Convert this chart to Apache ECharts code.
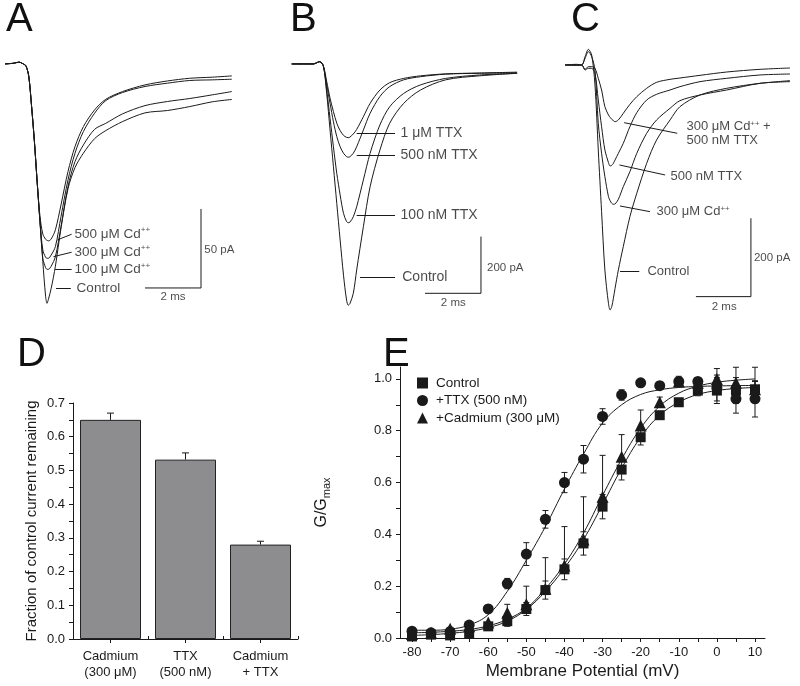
<!DOCTYPE html>
<html>
<head>
<meta charset="utf-8">
<script src="https://cdn.jsdelivr.net/npm/echarts/dist/echarts.min.js"></script>
<style>
  html, body { margin: 0; background: #fff; }
  #chart { width: 800px; height: 686px; }
</style>
</head>
<body>
<div id="chart"></div>
<script>
const FONT = '"Liberation Sans", Arial, Helvetica, sans-serif';
const INK = '#1a1a1a';

// ---- A: Cd++ block, time (ms) / current (pA)
const aTime = [0, 0.3, 0.5, 0.65, 0.75, 0.85, 0.95, 1.05, 1.15, 1.25, 1.35, 1.45, 1.5, 1.55, 1.65, 1.8, 2.0, 2.25, 2.5, 2.8, 3.2, 3.6, 4.2, 5.0, 5.8, 6.6, 7.4, 8.1];
const aControl = [0, 0.4, 1.1, 0, -1.3, -8, -27, -49, -75, -100, -125, -147, -151.5, -149, -142, -128, -104, -79, -65.6, -56.5, -47.3, -42.2, -36.5, -31, -29.5, -27, -24, -22.5];
const aCd100 = [0, 0.4, 1.1, 0, -1.3, -8, -27, -49, -75, -100, -123, -128.9, -130, -130, -128, -122, -103, -77.6, -61.8, -51.3, -41.4, -37.6, -31.6, -26.4, -23.8, -21.9, -19.6, -17.5];
const aCd300 = [0, 0.4, 1.1, 0, -1.3, -8, -27, -49, -75, -100, -117.7, -122.4, -123, -123, -120.9, -115.6, -96.6, -73.4, -56.5, -42.8, -31.2, -23.2, -18.1, -14.3, -12.2, -10.5, -10.1, -9.7];
const aCd500 = [0, 0.4, 1.1, 0, -1.3, -8, -27, -49, -75, -96.6, -107.6, -111, -111.6, -112, -110.8, -105, -89.2, -68.1, -52.3, -39.7, -29.1, -22.4, -17.5, -13.3, -10.8, -9.1, -8.4, -7.6];
const aNotes = ['500 μM Cd++', '300 μM Cd++', '100 μM Cd++', 'Control'];
const aNoteAt = [[2.46, -107.8], [2.46, -119.2], [2.46, -130], [2.54, -142]];
const aLeaders = [[[1.87, -111.4], [2.38, -107.8]], [[1.73, -122], [2.38, -119.2]], [[1.79, -130], [2.38, -130]], [[1.82, -142], [2.35, -142]]];
const aBar = [[5, -141.8], [7, -141.8], [7, -91.8]];   // 2 ms / 50 pA
const aBarText = ['50 pA', '2 ms'];
const aBarAt = [[7.1, -117.7], [6, -147.3]];

// ---- B: TTX block
const bTime = [0, 0.77, 1.0, 1.13, 1.25, 1.37, 1.49, 1.61, 1.73, 1.85, 1.96, 2.02, 2.08, 2.2, 2.32, 2.56, 2.8, 3.15, 3.5, 4.0, 4.6, 5.5, 6.7, 8.05];
const bControl = [0, 0, 8, -7, -104, -233, -362, -492, -621, -745, -833, -851, -845, -809, -727, -574, -433, -304, -209, -139, -92, -56, -42, -33];
const bTtx100 = [0, 0, 8, -7, -92, -192, -292, -386, -462, -527, -556, -560, -558, -539, -504, -409, -315, -215, -151, -104, -74, -51, -39, -33];
const bTtx500 = [0, 0, 8, -7, -74, -139, -204, -256, -292, -315, -327, -329, -327, -315, -292, -233, -174, -115, -80, -56, -45, -36, -33, -31];
const bTtx1u = [0, 0, 8, -7, -62, -121, -168, -209, -235, -252, -259, -260, -258, -247, -231, -186, -139, -92, -66, -51, -42, -35, -32, -29];
const bNotes = ['1 μM TTX', '500 nM TTX', '100 nM TTX', 'Control'];
const bNoteAt = [[3.87, -244.4], [3.87, -321], [3.87, -532.6], [3.93, -752.3]];
const bLeaders = [[[2.32, -244.4], [3.69, -244.4]], [[2.32, -321], [3.69, -321]], [[2.32, -532.6], [3.69, -532.6]], [[2.44, -752.3], [3.69, -752.3]]];
const bBar = [[4.76, -809], [6.76, -809], [6.76, -609]];  // 2 ms / 200 pA
const bBarText = ['200 pA', '2 ms'];
const bBarAt = [[6.96, -720], [5.77, -844]];

// ---- C: Cd++ and TTX
const cTime = [0, 0.42, 0.61, 0.73, 0.85, 0.97, 1.09, 1.21, 1.33, 1.45, 1.58, 1.64, 1.7, 1.76, 1.82, 1.94, 2.12, 2.36, 2.61, 2.97, 3.33, 3.82, 4.18, 4.91, 5.88, 7.09, 8.18];
const cControl = [0, 1.7, 0, 21.3, 40, 25.5, -51, -216.8, -374, -523, -608, -625, -616.5, -595, -570, -523, -463, -387, -327.4, -250.9, -191.3, -140.3, -106.3, -76.5, -59.5, -46.8, -40];
const cCd300 = [0, -0.9, 0, 17, 34, 21.3, -12.8, -148.8, -225.3, -284.9, -335.9, -346.1, -352.9, -355.4, -354.6, -342.7, -310.4, -272.1, -225.3, -174.3, -140.3, -110.5, -91, -76.5, -63.8, -46.8, -42.5];
const cTtx500 = [0, 0.9, 0, -12.8, -8.5, -8.5, -21.3, -89.3, -157.3, -216.8, -249.1, -257.7, -256, -250.9, -242.3, -225.3, -199.8, -157.3, -121.6, -89.3, -74.8, -63.8, -55.3, -42.5, -34, -25.5, -23];
const cBoth = [0, -0.9, 0, -11, -4.3, -4.3, -8.5, -34, -63.8, -106.3, -127.6, -133.5, -138.6, -142, -144.6, -140.3, -123.3, -100.3, -80.8, -59.5, -44.2, -36.6, -33.2, -26.4, -17.9, -11.1, -7.7];
const cNotes = ['300 μM Cd++ +\n500 nM TTX', '500 nM TTX', '300 μM Cd++', 'Control'];
const cNoteAt = [[4.4, -174.7], [3.82, -285], [3.31, -374.2], [2.98, -525.5]];
const cLeaders = [[[2.15, -147.2], [4.08, -174.2]], [[1.98, -255.1], [3.64, -280.6]], [[2.0, -359.7], [3.09, -374.2]], [[2.0, -525.5], [2.7, -525.5]]];
const cBar = [[4.76, -591], [6.76, -591], [6.76, -391]];  // 2 ms / 200 pA
const cBarText = ['200 pA', '2 ms'];
const cBarAt = [[6.85, -493], [5.79, -616]];

// ---- D: fraction remaining
const dCats = ['Cadmium\n(300 μM)', 'TTX\n(500 nM)', 'Cadmium\n+ TTX'];
const dValues = [0.65, 0.532, 0.28];
const dErrors = [0.02, 0.02, 0.01];
const dTicks = [0, 0.05, 0.1, 0.15, 0.2, 0.25, 0.3, 0.35, 0.4, 0.45, 0.5, 0.55, 0.6, 0.65, 0.7];

// ---- E: activation curves
const eVolt = [-80, -75, -70, -65, -60, -55, -50, -45, -40, -35, -30, -25, -20, -15, -10, -5, 0, 5, 10];
const eControl = [0.006, 0.013, 0.01, 0.017, 0.045, 0.065, 0.112, 0.185, 0.265, 0.365, 0.507, 0.65, 0.775, 0.86, 0.91, 0.955, 0.955, 0.955, 0.96];
const eControlErr = [0.005, 0.005, 0.005, 0.01, 0.01, 0.02, 0.025, 0.035, 0.04, 0.045, 0.047, 0.04, 0.03, 0.01, 0.01, 0.02, 0.05, 0.05, 0.03];
const eTtx = [0.026, 0.02, 0.025, 0.05, 0.112, 0.21, 0.324, 0.458, 0.6, 0.69, 0.855, 0.938, 0.985, 0.974, 0.99, 0.99, 0.965, 0.923, 0.923];
const eTtxErr = [0.005, 0.005, 0.005, 0.01, 0.015, 0.02, 0.044, 0.034, 0.039, 0.053, 0.03, 0.02, 0.01, 0.015, 0.01, 0.01, 0.05, 0.055, 0.07];
const eCd = [0.015, 0.02, 0.036, 0.045, 0.06, 0.097, 0.13, 0.19, 0.28, 0.38, 0.545, 0.7, 0.82, 0.91, 0.99, 0.985, 1.0, 0.985, 0.96];
const eCdErrUp = [0, 0, 0, 0, 0, 0.033, 0.07, 0.12, 0.15, 0.165, 0.16, 0.085, 0.06, 0.02, 0.02, 0.02, 0.04, 0.06, 0.085];
const eFitControl = [0.01, 0.013, 0.018, 0.026, 0.04, 0.065, 0.11, 0.18, 0.27, 0.38, 0.515, 0.655, 0.775, 0.86, 0.91, 0.94, 0.955, 0.963, 0.967];
const eFitTtx = [0.03, 0.03, 0.034, 0.05, 0.09, 0.18, 0.3, 0.43, 0.575, 0.71, 0.83, 0.9, 0.94, 0.958, 0.967, 0.971, 0.973, 0.974, 0.975];
const eFitCd = [0.02, 0.022, 0.026, 0.033, 0.047, 0.072, 0.115, 0.19, 0.285, 0.405, 0.55, 0.69, 0.81, 0.895, 0.945, 0.972, 0.987, 0.995, 1.0];
const eXTicks = [-80, -75, -70, -65, -60, -55, -50, -45, -40, -35, -30, -25, -20, -15, -10, -5, 0, 5, 10];
const eXLabels = [-80, -70, -60, -50, -40, -30, -20, -10, 0, 10];
const eYTicks = [0, 0.1, 0.2, 0.3, 0.4, 0.5, 0.6, 0.7, 0.8, 0.9, 1.0];
const eYLabels = [0, 0.2, 0.4, 0.6, 0.8, 1.0];
const eNames = ['Control', '+TTX (500 nM)', '+Cadmium (300 μM)'];

const zeros = eVolt.map(() => 0);

// text with "++" raised as superscript
const richText = s => s.split('\n').map(line =>
  line.split('++').map(p => p ? '{t|' + p + '}' : '').join('{s|++}')).join('\n');

const trace = (g, time, vals) => ({
  type: 'line', xAxisIndex: g, yAxisIndex: g, silent: true,
  data: time.map((t, i) => [t, vals[i]]),
  showSymbol: false, smooth: 0.3,
  lineStyle: { color: INK, width: 1 }
});

const notes = (g, texts, at, leaders, fs, lh) => ({
  type: 'scatter', xAxisIndex: g, yAxisIndex: g, silent: true,
  symbolSize: 1, itemStyle: { color: 'transparent' },
  data: at.map((p, i) => ({ value: p, name: texts[i] })),
  label: {
    show: true, position: 'right', distance: 0,
    formatter: p => richText(p.name),
    rich: {
      t: { fontSize: fs, lineHeight: lh, color: INK, fontFamily: FONT },
      s: { fontSize: fs * 0.6, lineHeight: lh * 0.6, verticalAlign: 'top', color: INK, fontFamily: FONT }
    }
  },
  markLine: {
    silent: true, symbol: ['none', 'none'], animation: false,
    label: { show: false },
    lineStyle: { color: INK, width: 1, type: 'solid' },
    data: leaders.map(s => [{ coord: s[0] }, { coord: s[1] }])
  }
});

const scaleBar = (g, pts, texts, at) => [
  {
    type: 'line', xAxisIndex: g, yAxisIndex: g, silent: true,
    data: pts, showSymbol: false, lineStyle: { color: INK, width: 1 }
  },
  {
    type: 'scatter', xAxisIndex: g, yAxisIndex: g, silent: true,
    symbolSize: 1, itemStyle: { color: 'transparent' },
    data: at.map((p, i) => ({
      value: p, name: texts[i],
      label: { position: i === 0 ? 'right' : 'inside' }
    })),
    label: { show: true, distance: 0, formatter: '{b}', fontSize: 11.5, color: INK, fontFamily: FONT }
  }
];

const errorBars = (g, xs, ys, up, down, hw) => ({
  type: 'custom', xAxisIndex: g, yAxisIndex: g, silent: true, z: 3,
  data: xs.map((x, i) => [x, ys[i], up[i], down[i]]),
  encode: { x: 0, y: 1 },
  renderItem(params, api) {
    const x = api.value(0), y = api.value(1), u = api.value(2), d = api.value(3);
    const top = api.coord([x, y + u]);
    const bot = api.coord([x, y - d]);
    const style = { stroke: INK, lineWidth: 1 };
    const kids = [{ type: 'line', shape: { x1: top[0], y1: top[1], x2: bot[0], y2: bot[1] }, style }];
    if (u > 0) kids.push({ type: 'line', shape: { x1: top[0] - hw, y1: top[1], x2: top[0] + hw, y2: top[1] }, style });
    if (d > 0) kids.push({ type: 'line', shape: { x1: bot[0] - hw, y1: bot[1], x2: bot[0] + hw, y2: bot[1] }, style });
    return { type: 'group', children: kids };
  }
});

const points = (name, vals, symbol, size) => ({
  type: 'scatter', name, xAxisIndex: 4, yAxisIndex: 4, z: 4,
  symbol, symbolSize: size, itemStyle: { color: INK, opacity: 1 },
  data: eVolt.map((v, i) => [v, vals[i]])
});

const fit = vals => ({
  type: 'line', xAxisIndex: 4, yAxisIndex: 4, silent: true, z: 2,
  data: eVolt.map((v, i) => [v, vals[i]]),
  showSymbol: false, smooth: 0.4,
  lineStyle: { color: INK, width: 1 }
});

const hidden = (min, max, g) => ({ gridIndex: g, type: 'value', min, max, show: false });
const axLine = { show: true, onZero: false, lineStyle: { color: INK, width: 1 } };
const axTick = { show: true, length: 4, lineStyle: { color: INK, width: 1 } };
const letter = (text, left, top) => ({
  text, left, top, padding: 0,
  textStyle: { fontSize: 40, fontWeight: 'normal', color: '#111', fontFamily: FONT }
});

const chart = echarts.init(document.getElementById('chart'));
chart.setOption({
  animation: false,
  textStyle: { fontFamily: FONT },
  title: [letter('A', 6, 0), letter('B', 290, 0), letter('C', 571, 0), letter('D', 17, 335), letter('E', 383, 335)],
  legend: {
    data: eNames, orient: 'vertical', left: 417, top: 376, padding: 0,
    itemWidth: 11, itemHeight: 11, itemGap: 3.5, selectedMode: false,
    itemStyle: { opacity: 1 },
    textStyle: { fontSize: 13.5, color: INK, fontFamily: FONT, padding: [0, 0, 0, 3] }
  },
  grid: [
    { left: 5, top: 56, width: 226.8, height: 254.4, outerBoundsMode: 'none' },
    { left: 291.7, top: 56, width: 226.8, height: 254.6, outerBoundsMode: 'none' },
    { left: 565, top: 45, width: 226.9, height: 272.8, outerBoundsMode: 'none' },
    { left: 73, top: 403, width: 225, height: 236, outerBoundsMode: 'none' },
    { left: 400, top: 367, width: 365, height: 271, outerBoundsMode: 'none' }
  ],
  xAxis: [
    hidden(0, 8.1, 0), hidden(0, 8.1, 1), hidden(0, 8.25, 2),
    {
      gridIndex: 3, type: 'category', data: dCats,
      axisLine: axLine, axisTick: Object.assign({ alignWithLabel: true }, axTick),
      axisLabel: { color: INK, fontSize: 13, lineHeight: 16, margin: 9, fontFamily: FONT }
    },
    {
      gridIndex: 4, type: 'value', min: -83.15, max: 12.62,
      name: 'Membrane Potential (mV)', nameLocation: 'middle', nameGap: 25,
      nameTextStyle: { fontSize: 17, color: INK, fontFamily: FONT },
      axisLine: axLine, axisTick: Object.assign({ customValues: eXTicks }, axTick),
      axisLabel: { customValues: eXLabels, color: INK, fontSize: 13, margin: 8, fontFamily: FONT },
      splitLine: { show: false }
    },
    {
      // short ticks on the category boundaries of D
      gridIndex: 3, type: 'category', data: dCats,
      axisLine: { show: false }, axisLabel: { show: false },
      axisTick: { show: true, length: 3, lineStyle: { color: INK, width: 1 } }
    }
  ],
  yAxis: [
    hidden(-156, 5, 0), hidden(-870, 28, 1), hidden(-645, 51, 2),
    {
      gridIndex: 3, type: 'value', min: 0, max: 0.7, interval: 0.1,
      name: 'Fraction of control current remaining', nameLocation: 'middle', nameGap: 34,
      nameTextStyle: { fontSize: 15, color: INK, fontFamily: FONT },
      axisLine: axLine, axisTick: Object.assign({ customValues: dTicks }, axTick),
      axisLabel: { color: INK, fontSize: 13, margin: 8, fontFamily: FONT, formatter: v => v.toFixed(1) },
      splitLine: { show: false }
    },
    {
      gridIndex: 4, type: 'value', min: 0, max: 1.046,
      name: '{a|G/G}{b|max}', nameLocation: 'middle', nameGap: 68,
      nameTextStyle: {
        color: INK,
        rich: {
          a: { fontSize: 16, lineHeight: 20, color: INK, fontFamily: FONT },
          b: { fontSize: 11, lineHeight: 11, verticalAlign: 'bottom', color: INK, fontFamily: FONT }
        }
      },
      axisLine: axLine, axisTick: Object.assign({ customValues: eYTicks }, axTick),
      axisLabel: { customValues: eYLabels, color: INK, fontSize: 13, margin: 8, fontFamily: FONT, formatter: v => v.toFixed(1) },
      splitLine: { show: false }
    }
  ],
  series: [
    trace(0, aTime, aControl), trace(0, aTime, aCd100), trace(0, aTime, aCd300), trace(0, aTime, aCd500),
    notes(0, aNotes, aNoteAt, aLeaders, 13.5, 16),
    ...scaleBar(0, aBar, aBarText, aBarAt),

    trace(1, bTime, bControl), trace(1, bTime, bTtx100), trace(1, bTime, bTtx500), trace(1, bTime, bTtx1u),
    notes(1, bNotes, bNoteAt, bLeaders, 14, 16),
    ...scaleBar(1, bBar, bBarText, bBarAt),

    trace(2, cTime, cControl), trace(2, cTime, cCd300), trace(2, cTime, cTtx500), trace(2, cTime, cBoth),
    notes(2, cNotes, cNoteAt, cLeaders, 13, 14),
    ...scaleBar(2, cBar, cBarText, cBarAt),

    {
      type: 'bar', xAxisIndex: 3, yAxisIndex: 3, silent: true,
      data: dValues, barWidth: 61,
      itemStyle: { color: '#8d8d8f', borderColor: '#222', borderWidth: 1 }
    },
    errorBars(3, [0, 1, 2], dValues, dErrors, [0, 0, 0], 3.5),

    fit(eFitControl), fit(eFitTtx), fit(eFitCd),
    errorBars(4, eVolt, eControl, eControlErr, eControlErr, 3),
    errorBars(4, eVolt, eTtx, eTtxErr, eTtxErr, 3),
    errorBars(4, eVolt, eCd, eCdErrUp, zeros, 3),
    points(eNames[0], eControl, 'rect', 10),
    points(eNames[1], eTtx, 'circle', 11),
    points(eNames[2], eCd, 'triangle', 12)
  ]
});
</script>
</body>
</html>
